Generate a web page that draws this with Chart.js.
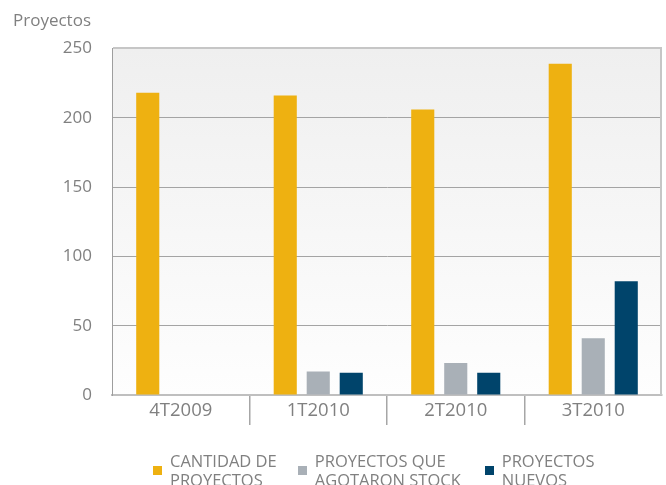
<!DOCTYPE html>
<html><head><meta charset="utf-8">
<script src="https://cdn.jsdelivr.net/npm/chart.js@4.4.1/dist/chart.umd.min.js"></script>
<style>
html,body{margin:0;padding:0;background:#fff;overflow:hidden;width:666px;height:485px}
#wrap{position:relative;width:666px;height:485px;overflow:hidden}
canvas{position:absolute;left:0;top:0}
#legend{position:absolute;left:153px;top:451px;display:flex;align-items:center;font-family:'Open Sans';font-size:16.5px;line-height:19px;color:#808080;white-space:nowrap}
.item{display:flex;align-items:center;margin-right:21px}
.item:nth-child(2){margin-right:24px}
.box{width:9px;height:9px;margin-right:8px;flex:none}
</style></head><body>
<div id="wrap"><canvas id="c" width="666" height="485"></canvas><div id="legend"></div></div>
<script>
const categories = ['4T2009', '1T2010', '2T2010', '3T2010'];
const cantidadProyectos = [218, 216, 206, 239];
const agotaronStock = [null, 17, 23, 41];
const proyectosNuevos = [null, 16, 16, 82];
const seriesNames = [['CANTIDAD DE', 'PROYECTOS'], ['PROYECTOS QUE', 'AGOTARON STOCK'], ['PROYECTOS', 'NUEVOS']];
const yTicks = [0, 50, 100, 150, 200, 250];
const yTitle = 'Proyectos';
const colors = ['#EEB111', '#A9B0B7', '#00446B'];

const seriesValues = [cantidadProyectos, agotaronStock, proyectosNuevos];

// HTML legend
const legendEl = document.getElementById('legend');
seriesNames.forEach((lines, i) => {
  const it = document.createElement('div'); it.className = 'item';
  const b = document.createElement('div'); b.className = 'box'; b.style.background = colors[i];
  const t = document.createElement('div'); t.innerHTML = lines.join('<br>');
  it.appendChild(b); it.appendChild(t); legendEl.appendChild(it);
});

const bgPlugin = {
  id: 'bg',
  beforeDraw(chart) {
    const {ctx, chartArea: a} = chart;
    const g = ctx.createLinearGradient(0, a.top, 0, a.bottom);
    g.addColorStop(0, '#EFEFEF');
    g.addColorStop(1, '#FEFEFE');
    ctx.save(); ctx.fillStyle = g; ctx.fillRect(a.left, a.top, a.right - a.left, a.bottom - a.top); ctx.restore();
  },
  afterDraw(chart) {
    const {ctx, chartArea: a} = chart;
    ctx.save(); ctx.strokeStyle = '#C6C6C6'; ctx.lineWidth = 2;
    ctx.beginPath(); ctx.moveTo(a.right - 1, a.top); ctx.lineTo(a.right - 1, a.bottom); ctx.stroke();
    ctx.restore();
  }
};

function create() {
  new Chart(document.getElementById('c'), {
    type: 'bar',
    data: {
      labels: categories,
      datasets: seriesValues.map((v, i) => ({
        label: seriesNames[i].join(' '),
        data: v,
        backgroundColor: colors[i],
        borderWidth: 0,
        categoryPercentage: 0.72,
        barPercentage: 0.70
      }))
    },
    options: {
      responsive: false,
      animation: false,
      layout: {padding: {left: 13, right: 4, top: 0, bottom: 50}},
      plugins: {
        legend: {display: false},
        tooltip: {enabled: false},
        title: {
          display: true, text: yTitle, align: 'start', color: '#808080',
          font: {family: "'Open Sans'", size: 17, weight: 'normal'},
          padding: {top: 11, bottom: 17}
        }
      },
      scales: {
        x: {
          offset: true,
          border: {display: true, color: '#BFBFBF', width: 2},
          grid: {
            offset: true, drawOnChartArea: false, drawTicks: true, tickLength: 30,
            color: ctx => (ctx.index > 0 ? '#A6A6A6' : 'rgba(0,0,0,0)'),
            lineWidth: 1.5
          },
          ticks: {color: '#808080', font: {family: "'Open Sans'", size: 18.5}, padding: -25, maxRotation: 0},
          afterFit: s => { s.height = 40; }
        },
        y: {
          min: 0, max: 250,
          border: {display: true, color: '#9E9E9E', width: 1},
          grid: {
            drawTicks: false,
            color: ctx => (ctx.tick && ctx.tick.value === 250 ? '#C6C6C6' : '#A4A4A4'),
            lineWidth: ctx => (ctx.tick && ctx.tick.value === 250 ? 2 : 1)
          },
          ticks: {color: '#808080', font: {family: "'Open Sans'", size: 17}, padding: 20, stepSize: 50},
          afterBuildTicks: s => { s.ticks = yTicks.map(v => ({value: v})); },
          afterFit: s => { s.width = 99; }
        }
      }
    },
    plugins: [bgPlugin]
  });
}
document.fonts.load('17px "Open Sans"').then(create, create);
</script>
</body></html>
